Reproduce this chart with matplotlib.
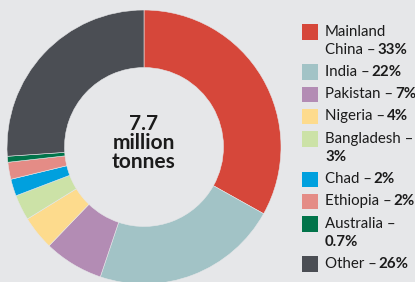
import matplotlib.pyplot as plt
from matplotlib.patches import Rectangle

plt.rcParams["font.family"] = ["Lato", "DejaVu Sans"]

# data
countries = ["Mainland\nChina –", "India –", "Pakistan –", "Nigeria –", "Bangladesh –\n",
             "Chad –", "Ethiopia –", "Australia –\n", "Other –"]
shares = [33, 22, 7, 4, 3, 2, 2, 0.7, 26]
share_labels = ["33%", "22%", "7%", "4%", "3%", "2%", "2%", "0.7%", "26%"]
colors = ["#d6473a", "#a2c3c6", "#b38cb4", "#fddb8d", "#cce2a7",
          "#00a0de", "#e48c86", "#01744a", "#4b4e54"]
total_label = "7.7\nmillion\ntonnes"

bg = "#e6e7e9"
W, H = 415, 282
fig = plt.figure(figsize=(W / 100, H / 100), dpi=100, facecolor=bg)

# donut, centre at (144, 147) px, radius 137 px
cx, cy, r = 144, 147, 137
ax = fig.add_axes([(cx - r) / W, (H - cy - r) / H, 2 * r / W, 2 * r / H])
ax.pie(shares, colors=colors, startangle=90, counterclock=False,
       wedgeprops=dict(width=0.42, edgecolor=bg, linewidth=0.4))
ax.set_xlim(-1, 1)
ax.set_ylim(-1, 1)
ax.set_aspect("equal")
ax.axis("off")
ax.text(0, 0.03, total_label, ha="center", va="center", fontsize=15,
        fontweight="bold", color="#1b1b1b", linespacing=0.92)

# legend in pixel coordinates
lax = fig.add_axes([0, 0, 1, 1])
lax.set_xlim(0, W)
lax.set_ylim(H, 0)
lax.axis("off")

fs = 10.8
line_h = 18
y = 24
for name, lab, col in zip(countries, share_labels, colors):
    lines = name.split("\n")
    lax.add_patch(Rectangle((302, y), 16, 15.5, facecolor=col, edgecolor="none"))
    prev = None
    for k, ln in enumerate(lines):
        yy = y + 7.5 + k * line_h
        if ln:
            prev = lax.text(325, yy, ln, ha="left", va="center", fontsize=fs,
                            color="#1b1b1b")
        else:
            prev = None
    if prev is not None:
        lax.annotate(lab, xy=(1, 0), xycoords=prev, xytext=(1.2, 0),
                     textcoords="offset points", ha="left", va="bottom",
                     fontsize=fs, fontweight="bold", color="#1b1b1b")
    else:
        lax.text(325, y + 7.5 + (len(lines) - 1) * line_h, lab, ha="left",
                 va="center", fontsize=fs, fontweight="bold", color="#1b1b1b")
    y += line_h * len(lines) + 4.3

fig.savefig("out.png", dpi=100, facecolor=bg)
